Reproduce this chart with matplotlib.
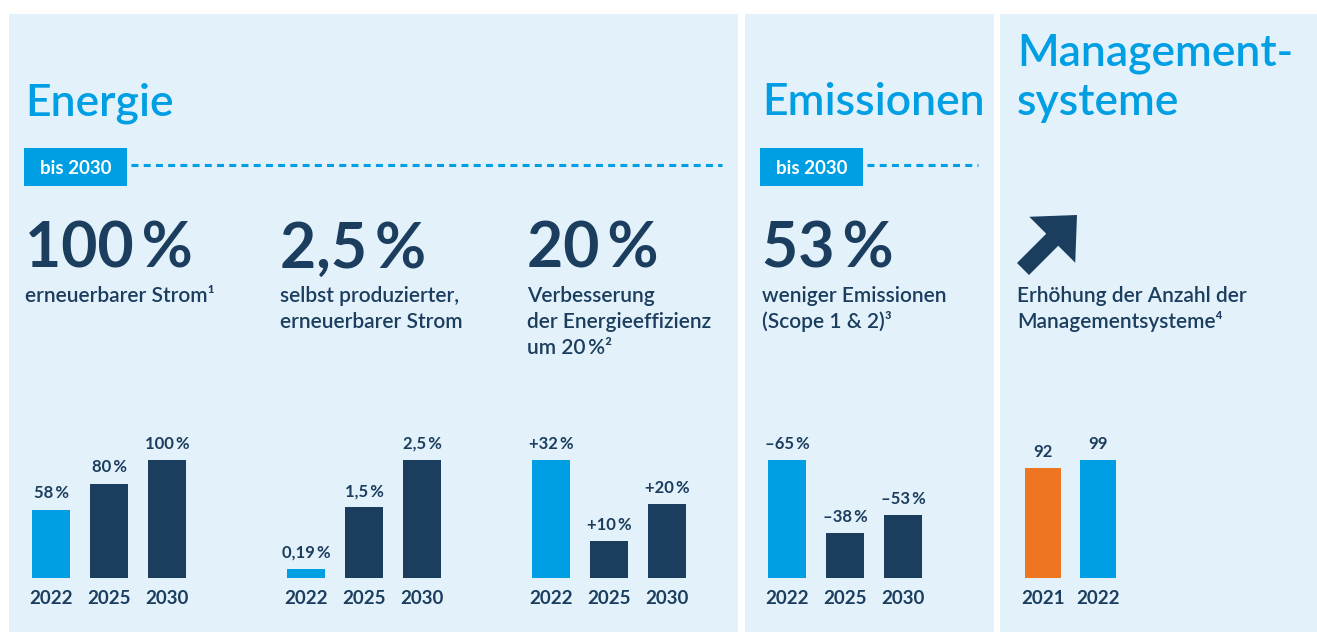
import matplotlib
matplotlib.use("Agg")
import matplotlib.pyplot as plt
from matplotlib.patches import Rectangle, FancyArrow

plt.rcParams['font.family'] = ['Lato', 'DejaVu Sans']
plt.rcParams['lines.scale_dashes'] = False

W, H = 1317, 639
BG = "#e3f1fa"
BLUE = "#009fe3"
NAVY = "#1b3d5e"
ORANGE = "#ee7623"

# data
years_goal = ["2022", "2025", "2030"]
strom_vals = [58, 80, 100]
strom_labels = ["58\u2009%", "80\u2009%", "100\u2009%"]
eigen_vals = [0.19, 1.5, 2.5]
eigen_labels = ["0,19\u2009%", "1,5\u2009%", "2,5\u2009%"]
effiz_vals = [32, 10, 20]
effiz_labels = ["+32\u2009%", "+10\u2009%", "+20\u2009%"]
# bar lengths as drawn (2022 bar = full height)
emis_vals = [100, 38, 53]
emis_labels = ["\u201365\u2009%", "\u201338\u2009%", "\u201353\u2009%"]
years_ms = ["2021", "2022"]
ms_vals = [92, 99]
ms_labels = ["92", "99"]


def fx(x):
    return x / W


def fy(y):
    return 1 - y / H


fig = plt.figure(figsize=(W / 100, H / 100), dpi=100)
fig.patch.set_facecolor("white")

# background layer in pixel coordinates
bg = fig.add_axes([0, 0, 1, 1])
bg.set_xlim(0, W)
bg.set_ylim(H, 0)
bg.axis('off')
for x0, x1 in [(9, 738), (745, 994), (1000, 1317)]:
    bg.add_patch(Rectangle((x0, 14), x1 - x0, 618, color=BG, lw=0))

# "bis 2030" tags with dashed lines
for x0, xend in [(24, 722), (760, 978)]:
    bg.add_patch(Rectangle((x0, 148), 103, 38, color=BLUE, lw=0))
    bg.text(x0 + 51.5, 168, "bis 2030", color="white", fontsize=13.5,
            fontweight='bold', ha='center', va='center')
    bg.plot([x0 + 107, xend], [165, 165], color=BLUE, lw=2.2, dashes=(5, 3.8))

# arrow
bg.add_patch(FancyArrow(1023, 269, 54, -54, width=17, head_width=65, head_length=35,
                        length_includes_head=True, color=NAVY, lw=0))

# titles
for x, y, t in [(25, 115, "Energie"), (762, 115, "Emissionen"),
                (1017, 66, "Management-"), (1017, 115, "systeme")]:
    bg.text(x, y, t, color=BLUE, fontsize=32, fontweight='semibold', va='baseline')

# headline numbers
for x, t in [(25, "100\u2009%"), (280, "2,5\u2009%"), (527, "20\u2009%"), (762, "53\u2009%")]:
    bg.text(x, 268, t, color=NAVY, fontsize=45, fontweight='bold', va='baseline')

# descriptions
desc = [
    (25, ["erneuerbarer Strom\u00b9"]),
    (280, ["selbst produzierter,", "erneuerbarer Strom"]),
    (527, ["Verbesserung", "der Energieeffizienz", "um 20\u2009%\u00b2"]),
    (762, ["weniger Emissionen", "(Scope 1 & 2)\u00b3"]),
    (1017, ["Erhöhung der Anzahl der", "Managementsysteme\u2074"]),
]
for x, lines in desc:
    for i, line in enumerate(lines):
        bg.text(x, 302 + 26 * i, line, color=NAVY, fontsize=15,
                fontweight='semibold', va='baseline')


def bar_group(left, right, vals, labels, years, colors, ymax, width):
    ax = fig.add_axes([fx(left), fy(578), (right - left) / W, 118 / H])
    ax.set_xlim(-0.5, len(vals) - 0.5)
    ax.set_ylim(0, ymax)
    ax.axis('off')
    ax.patch.set_alpha(0)
    ax.bar(range(len(vals)), vals, width=width, color=colors)
    for i, v in enumerate(vals):
        ax.annotate(labels[i], (i, v), xytext=(0, 8), textcoords='offset points',
                    ha='center', va='baseline', color=NAVY, fontsize=12,
                    fontweight='bold', annotation_clip=False)
        ax.annotate(years[i], (i, 0), xytext=(0, -19), textcoords='offset points',
                    ha='center', va='baseline', color=NAVY, fontsize=13.5,
                    fontweight='bold', annotation_clip=False)


goal_colors = [BLUE, NAVY, NAVY]
bar_group(22, 196, strom_vals, strom_labels, years_goal, goal_colors, 100, 0.64)
bar_group(277, 451, eigen_vals, eigen_labels, years_goal, goal_colors, 2.5, 0.64)
bar_group(522, 696, effiz_vals, effiz_labels, years_goal, goal_colors, 32, 0.64)
bar_group(758, 932, emis_vals, emis_labels, years_goal, goal_colors, 100, 0.64)
bar_group(1015.5, 1125.5, ms_vals, ms_labels, years_ms, [ORANGE, BLUE], 99, 0.67)

fig.savefig("out.png", dpi=100, facecolor=fig.get_facecolor())
